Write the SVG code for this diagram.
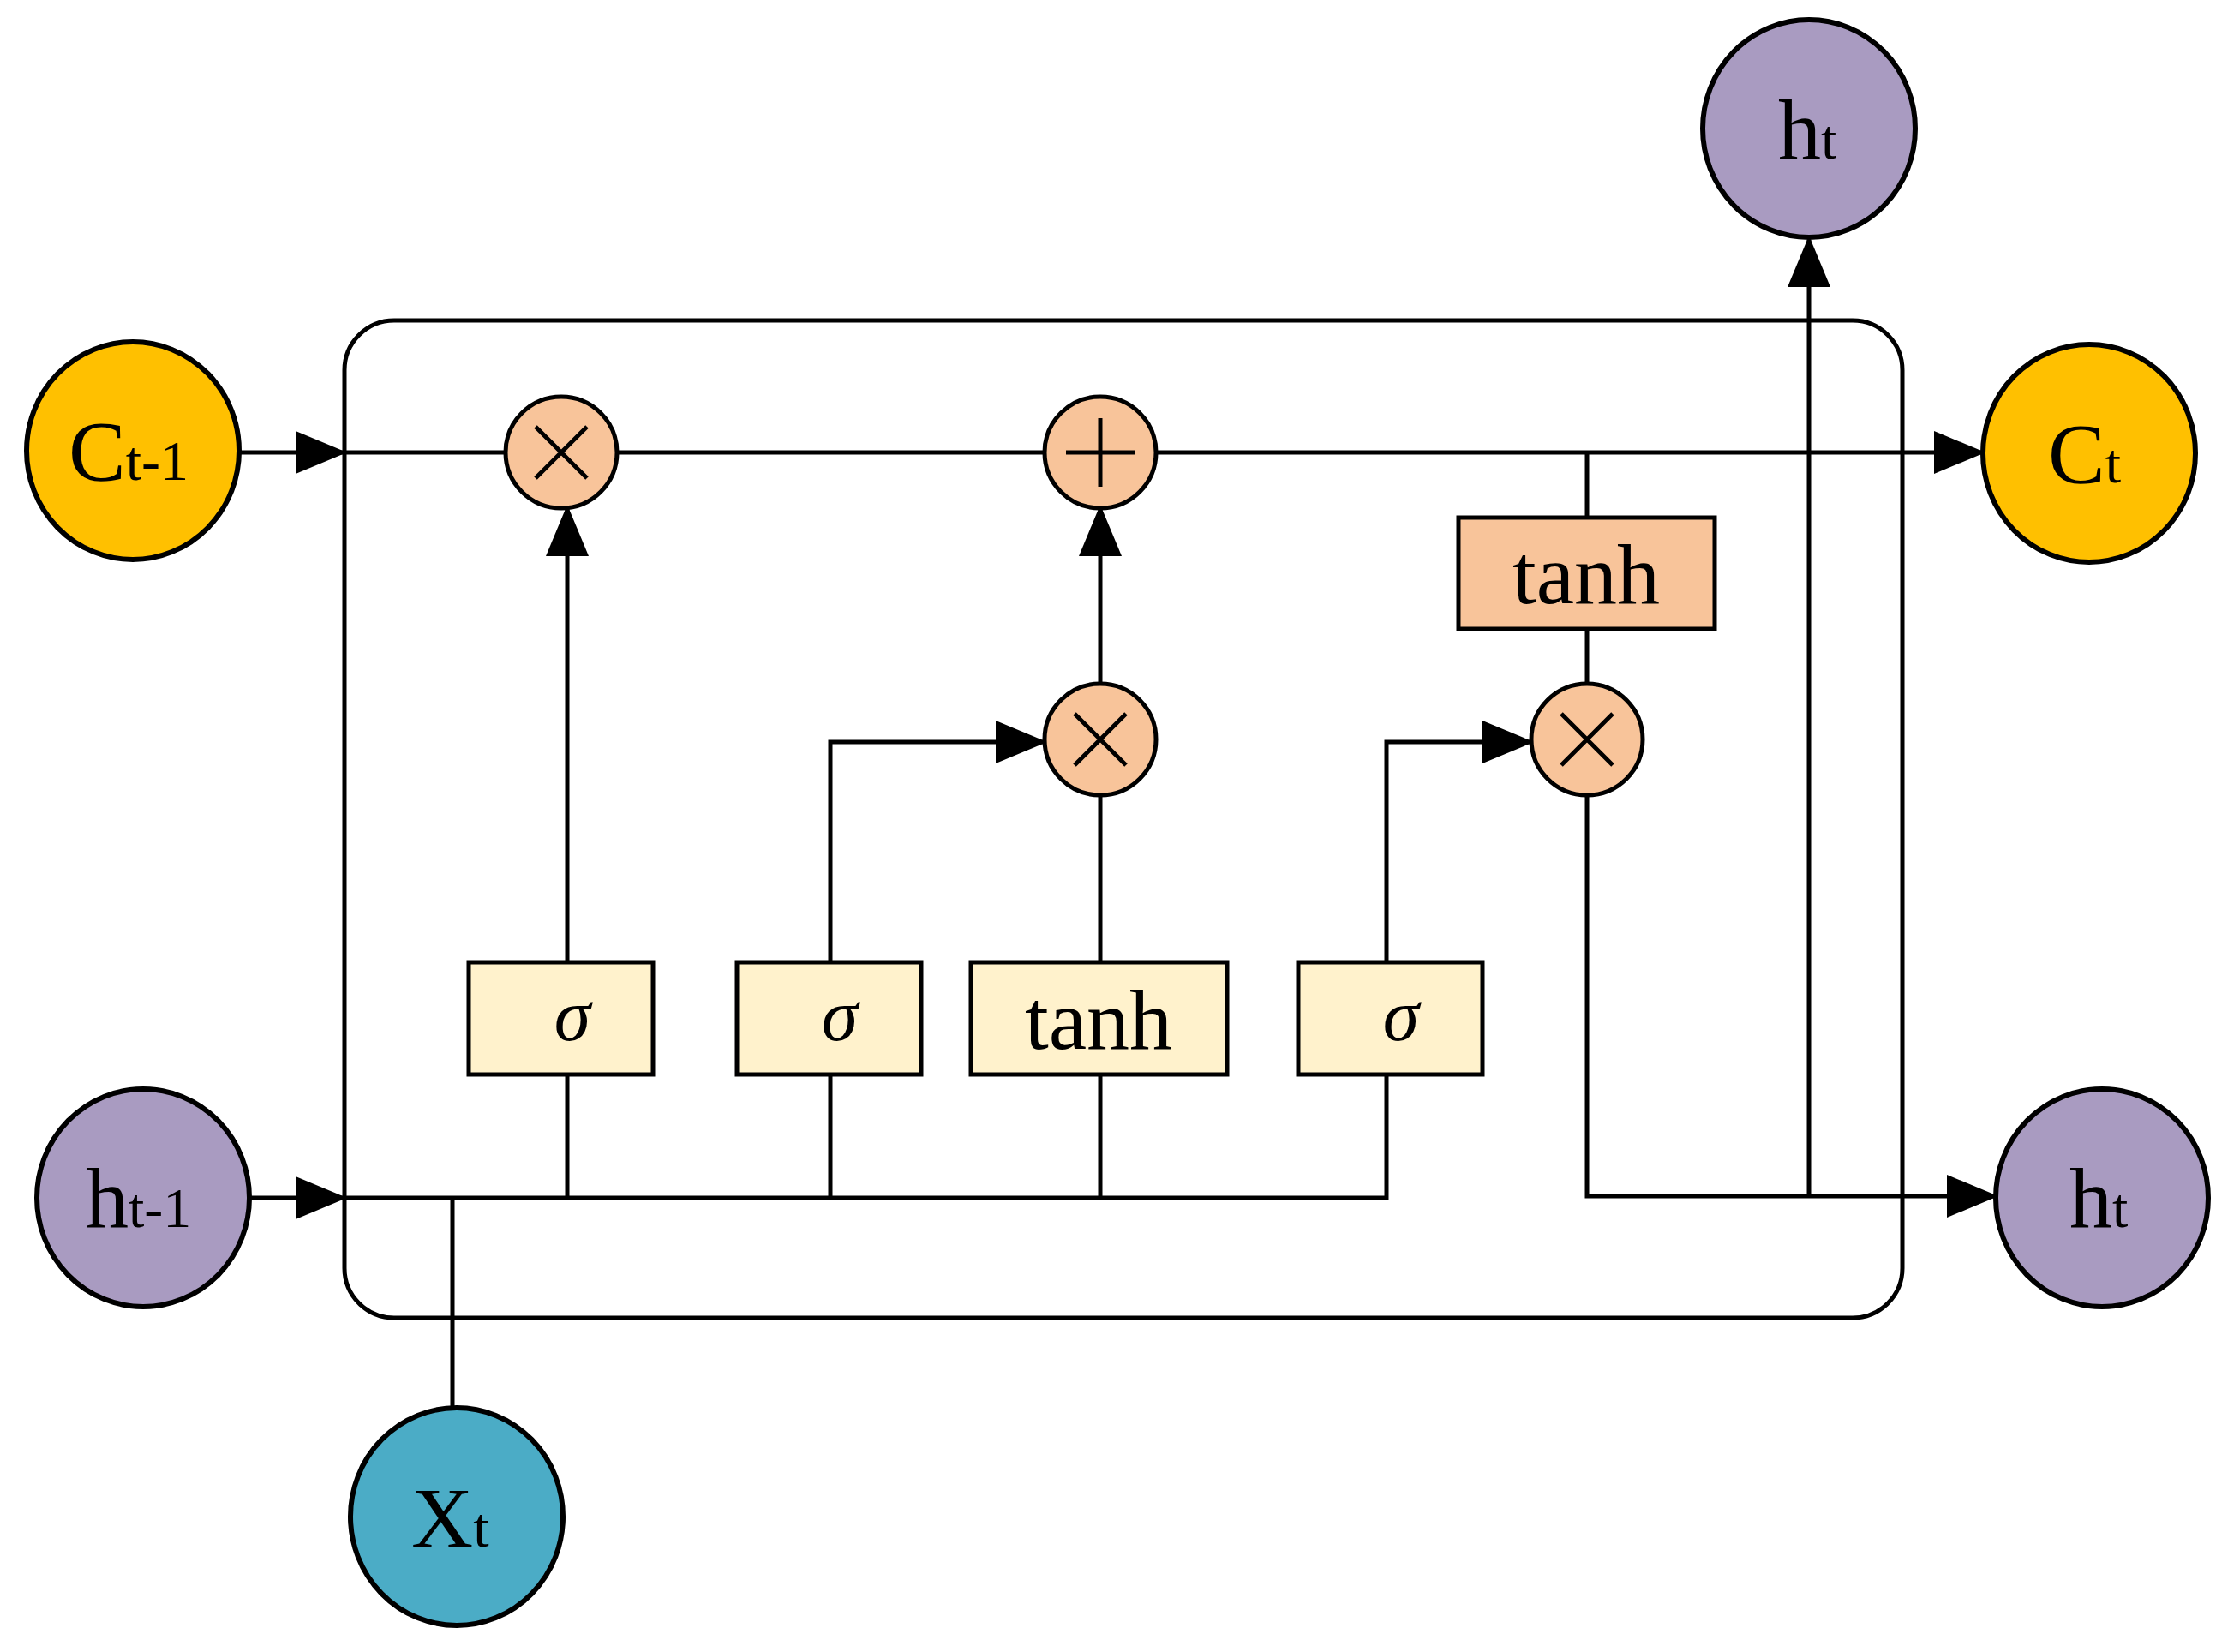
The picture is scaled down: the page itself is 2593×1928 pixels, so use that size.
<svg xmlns="http://www.w3.org/2000/svg" width="2593" height="1928" viewBox="0 0 2593 1928">
<style>
.l{fill:none;stroke:#000;stroke-width:5}
.a{fill:none;stroke:#000;stroke-width:5;marker-end:url(#ar)}
.n{stroke:#000;stroke-width:6}
.t{font-family:"Liberation Serif",serif;font-size:100px;fill:#000}
.s{font-size:66px}
.sg{font-family:"Liberation Serif",serif;font-style:italic;font-size:86px}
.op{fill:#F8C49A;stroke:#000;stroke-width:5}
</style>
<defs>
<marker id="ar" markerWidth="12" markerHeight="10" refX="11" refY="5" orient="auto" markerUnits="strokeWidth"><path d="M0,0 L12,5 L0,10 Z" fill="#000"/></marker>
</defs>
<rect x="402" y="374" width="1818" height="1164" rx="58" fill="none" stroke="#000" stroke-width="5"/>
<g id="connectors">
<path class="a" d="M281,528 H400"/>
<path class="l" d="M400,528 H590"/>
<path class="l" d="M720,528 H1219"/>
<path class="a" d="M1349,528 H2312"/>
<path class="l" d="M1852,528 V604"/>
<path class="l" d="M1852,734 V798"/>
<path class="a" d="M291,1398 H400"/>
<path class="l" d="M400,1398 H1618 V1254"/>
<path class="l" d="M528,1646 V1398"/>
<path class="l" d="M662,1398 V1254"/>
<path class="a" d="M662,1123 V594"/>
<path class="l" d="M969,1398 V1254"/>
<path class="a" d="M969,1123 V866 H1217"/>
<path class="l" d="M1284,1398 V1254"/>
<path class="l" d="M1284,1123 V928"/>
<path class="a" d="M1284,798 V594"/>
<path class="a" d="M1618,1123 V866 H1785"/>
<path class="a" d="M1852,928 V1396 H2327"/>
<path class="a" d="M2111,1398 V280"/>
</g>
<g id="c_prev"><ellipse class="n" cx="155" cy="526" rx="124" ry="127" fill="#FFC000"/><text class="t" x="80" y="560">C<tspan class="s">t-1</tspan></text></g>
<g id="h_prev"><ellipse class="n" cx="167" cy="1398" rx="124" ry="127" fill="#A99BC1"/><text class="t" x="100" y="1432">h<tspan class="s">t-1</tspan></text></g>
<g id="x_t"><ellipse class="n" cx="533" cy="1770" rx="124" ry="127" fill="#4BACC6"/><text class="t" x="480" y="1805">X<tspan class="s">t</tspan></text></g>
<g id="h_top"><ellipse class="n" cx="2111" cy="150" rx="124" ry="127" fill="#A99BC1"/><text class="t" x="2075" y="185">h<tspan class="s">t</tspan></text></g>
<g id="c_t"><ellipse class="n" cx="2438" cy="529" rx="124" ry="127" fill="#FFC000"/><text class="t" x="2390" y="563">C<tspan class="s">t</tspan></text></g>
<g id="h_t"><ellipse class="n" cx="2453" cy="1398" rx="124" ry="127" fill="#A99BC1"/><text class="t" x="2415" y="1432">h<tspan class="s">t</tspan></text></g>
<g id="mul1"><circle class="op" cx="655" cy="528" r="65"/><path class="l" d="M625,498 L685,558 M685,498 L625,558"/></g>
<g id="plus"><circle class="op" cx="1284" cy="528" r="65"/><path class="l" d="M1244,528 H1324 M1284,488 V568"/></g>
<g id="mul2"><circle class="op" cx="1284" cy="863" r="65"/><path class="l" d="M1254,833 L1314,893 M1314,833 L1254,893"/></g>
<g id="mul3"><circle class="op" cx="1852" cy="863" r="65"/><path class="l" d="M1822,833 L1882,893 M1882,833 L1822,893"/></g>
<g id="tanh_out"><rect x="1702" y="604" width="299" height="130" fill="#F8C49A" stroke="#000" stroke-width="5"/><text class="t" x="1851" y="704" text-anchor="middle">tanh</text></g>
<g id="sig1"><rect x="547" y="1123" width="215" height="131" fill="#FFF2CC" stroke="#000" stroke-width="5"/><text class="sg" x="668" y="1214" text-anchor="middle">σ</text></g>
<g id="sig2"><rect x="860" y="1123" width="215" height="131" fill="#FFF2CC" stroke="#000" stroke-width="5"/><text class="sg" x="980" y="1214" text-anchor="middle">σ</text></g>
<g id="tanh_in"><rect x="1133" y="1123" width="299" height="131" fill="#FFF2CC" stroke="#000" stroke-width="5"/><text class="t" x="1282" y="1224" text-anchor="middle">tanh</text></g>
<g id="sig3"><rect x="1515" y="1123" width="215" height="131" fill="#FFF2CC" stroke="#000" stroke-width="5"/><text class="sg" x="1635" y="1214" text-anchor="middle">σ</text></g>
</svg>
